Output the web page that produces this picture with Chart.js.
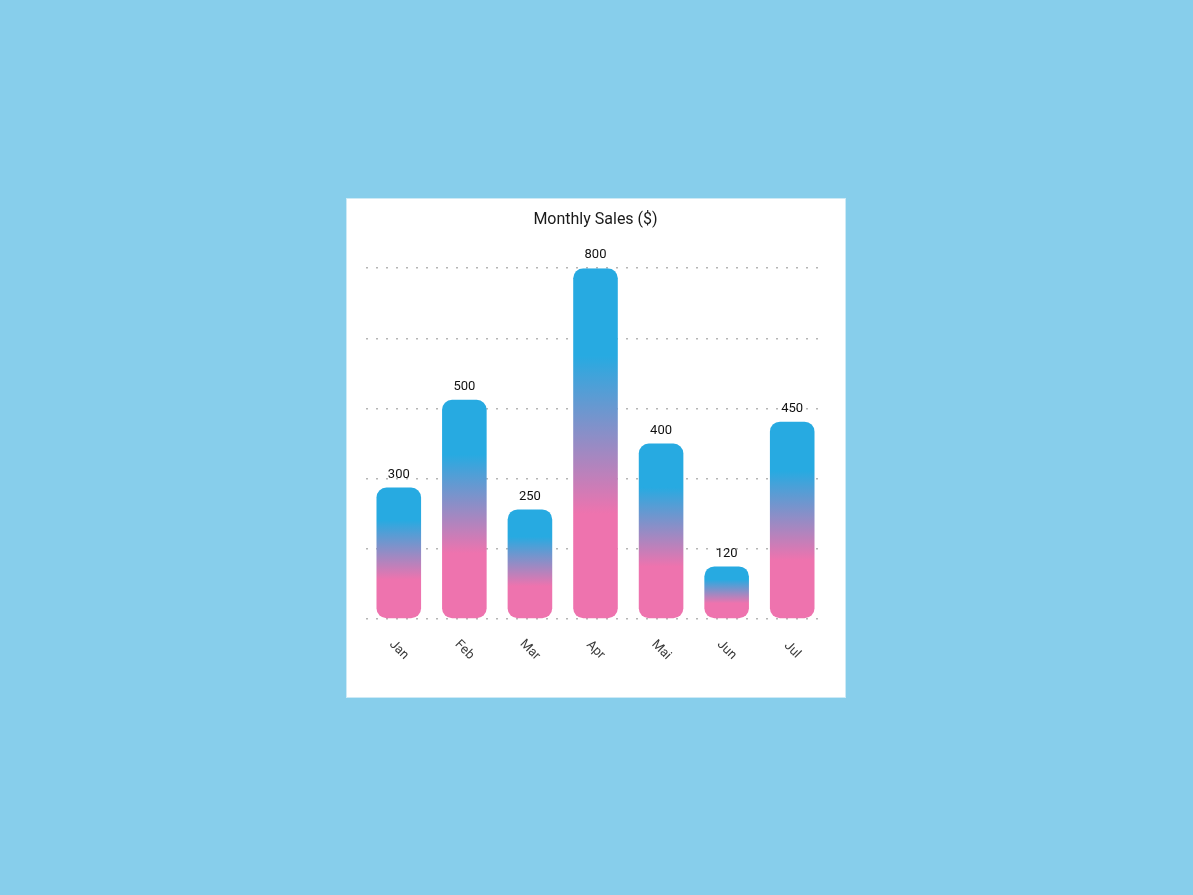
<!DOCTYPE html>
<html>
<head>
<meta charset="utf-8">
<script src="https://cdn.jsdelivr.net/npm/chart.js@4/dist/chart.umd.min.js"></script>
<style>
  html, body { margin: 0; padding: 0; }
  body { width: 1193px; height: 895px; background: #87CEEB; position: relative; overflow: hidden; }
  #card { position: absolute; left: 346px; top: 198px; width: 500px; height: 500px; box-sizing: border-box;
          background: #fff; border: 1px solid #cdeaf6; }
  #wrap { position: absolute; left: 0; top: 0; width: 498px; height: 498px; }
</style>
</head>
<body>
<div id="card"><div id="wrap"><canvas id="c" width="498" height="498"></canvas></div></div>
<script>
const categories = ['Jan', 'Feb', 'Mar', 'Apr', 'Mai', 'Jun', 'Jul'];
const salesValues = [300, 500, 250, 800, 400, 120, 450];
const yTicks = [0, 160, 320, 480, 640, 800];

const BLUE = '#27aae1';
const PINK = '#ee73ae';

function barGradient(ctx) {
  const chart = ctx.chart;
  if (!chart.chartArea || ctx.type !== 'data') return BLUE;
  const ys = chart.scales.y;
  const top = ys.getPixelForValue(ctx.raw);
  const bottom = ys.getPixelForValue(0);
  if (!isFinite(top) || !isFinite(bottom) || top === bottom) return BLUE;
  const g = chart.ctx.createLinearGradient(0, bottom, 0, top);
  g.addColorStop(0, PINK);
  g.addColorStop(0.3, PINK);
  g.addColorStop(0.75, BLUE);
  g.addColorStop(1, BLUE);
  return g;
}

const labelsPlugin = {
  id: 'customLabels',
  afterDatasetsDraw(chart) {
    const ctx = chart.ctx;
    const meta = chart.getDatasetMeta(0);
    ctx.save();
    ctx.font = '13px Roboto';
    ctx.fillStyle = '#111';
    ctx.textAlign = 'center';
    ctx.textBaseline = 'middle';
    meta.data.forEach((bar, i) => {
      ctx.fillText(String(salesValues[i]), bar.x, bar.y - 13);
    });
    ctx.restore();
  },
  afterDraw(chart) {
    const ctx = chart.ctx;
    const xs = chart.scales.x;
    const base = chart.chartArea.bottom;
    ctx.save();
    ctx.font = '13px Roboto';
    ctx.fillStyle = '#3a3a3a';
    ctx.textAlign = 'center';
    ctx.textBaseline = 'middle';
    categories.forEach((lab, i) => {
      const x = xs.getPixelForValue(i);
      ctx.save();
      ctx.translate(x, base + 31);
      ctx.rotate(Math.PI / 4);
      ctx.fillText(lab, 0, 0);
      ctx.restore();
    });
    ctx.restore();
  }
};

new Chart(document.getElementById('c'), {
  type: 'bar',
  data: {
    labels: categories,
    datasets: [{
      label: 'Sales',
      data: salesValues,
      backgroundColor: barGradient,
      borderWidth: 0,
      borderRadius: 10,
      borderSkipped: false,
      barPercentage: 0.85,
      categoryPercentage: 0.8
    }]
  },
  options: {
    responsive: false,
    animation: false,
    layout: { padding: { left: 19, right: 20, top: 0, bottom: 70 } },
    plugins: {
      legend: { display: false },
      tooltip: { enabled: false },
      title: {
        display: true,
        text: 'Monthly Sales ($)',
        color: '#1a1a1a',
        font: { family: 'Roboto', size: 16, weight: 'normal' },
        padding: { top: 11, bottom: 39 }
      }
    },
    scales: {
      x: {
        grid: { display: false },
        border: { display: false },
        ticks: { display: false }
      },
      y: {
        min: 0,
        max: 800,
        afterBuildTicks(scale) { scale.ticks = yTicks.map(v => ({ value: v })); },
        ticks: { display: false },
        border: { display: false, dash: [2, 8] },
        grid: { color: '#b5b5b5', lineWidth: 1.5, drawTicks: false }
      }
    }
  },
  plugins: [labelsPlugin]
});
</script>
</body>
</html>
